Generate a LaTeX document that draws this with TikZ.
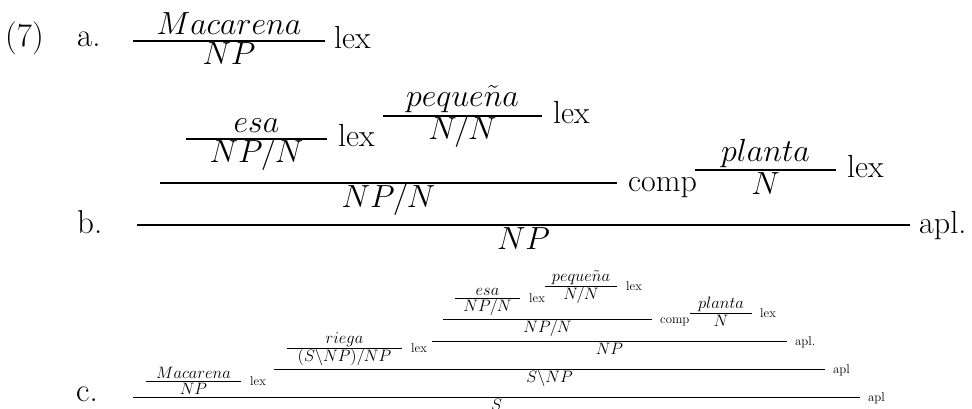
\RequirePackage{fix-cm}
\documentclass[tikz,border=0pt]{standalone}
\usetikzlibrary{calc}

% one horizontal inference rule: #1 name, #2 left x, #3 right x, #4 y, #5 style
\newcommand{\infrule}[5]{%
  \coordinate (#1-l) at (#2,#4);
  \coordinate (#1-r) at (#3,#4);
  \coordinate (#1-c) at ($(#1-l)!0.5!(#1-r)$);
  \draw[#5] (#1-l) -- (#1-r);
}

\tikzset{
  bigrule/.style={line width=1.3pt},
  smallrule/.style={line width=0.75pt},
  bigmath/.style={font=\fontsize{32}{38}\selectfont, inner sep=0pt, anchor=base},
  smallmath/.style={font=\fontsize{16.5}{20}\selectfont, inner sep=0pt, anchor=base},
  biglab/.style={font=\fontsize{32}{38}\selectfont, inner sep=0pt, anchor=base west},
  smalllab/.style={font=\fontsize{12.8}{15}\selectfont, inner sep=0pt, anchor=base west},
  itemlab/.style={font=\fontsize{33}{40}\selectfont, inner sep=0pt, anchor=base west},
}

\begin{document}
\begin{tikzpicture}[x=1pt, y=-1pt]
\useasboundingbox (0,0) rectangle (972,409);
\clip (0,0) rectangle (972,409);

% example number and item labels
\node[itemlab] (exnum) at (5,47) {(7)};
\node[itemlab] (ia) at (77,47) {a.};
\node[itemlab] (ib) at (77,233) {b.};
\node[itemlab] (ic) at (76,401) {c.};

% ---------- (a) ----------
\infrule{amac}{133}{325}{41}{bigrule}
\node[bigmath] (amac-num) at ($(amac-c)+(0,-6)$) {$Macarena$};
\node[bigmath] (amac-den) at ($(amac-c)+(0,24)$) {$NP$};
\node[biglab] (amac-lab) at ($(amac-r)+(9,8)$) {lex};

% ---------- (b) ----------
\infrule{besa}{186}{327}{139}{bigrule}
\node[bigmath] (besa-num) at ($(besa-c)+(0,-6)$) {$esa$};
\node[bigmath] (besa-den) at ($(besa-c)+(0,24)$) {$NP/N$};
\node[biglab] (besa-lab) at ($(besa-r)+(11,8)$) {lex};

\infrule{bpeq}{383}{542}{116}{bigrule}
\node[bigmath] (bpeq-num) at ($(bpeq-c)+(0,-9)$) {$peque\tilde{n}a$};
\node[bigmath] (bpeq-den) at ($(bpeq-c)+(0,24)$) {$N/N$};
\node[biglab] (bpeq-lab) at ($(bpeq-r)+(11,8)$) {lex};

\infrule{bcomp}{160}{617}{183}{bigrule}
\node[bigmath] (bcomp-den) at ($(bcomp-c)+(0,24)$) {$NP/N$};
\node[biglab] (bcomp-lab) at ($(bcomp-r)+(11,8)$) {comp};

\infrule{bpla}{695}{836}{170}{bigrule}
\node[bigmath] (bpla-num) at ($(bpla-c)+(0,-9)$) {$planta$};
\node[bigmath] (bpla-den) at ($(bpla-c)+(0,24)$) {$N$};
\node[biglab] (bpla-lab) at ($(bpla-r)+(11,8)$) {lex};

\infrule{bapl}{137}{910}{225}{bigrule}
\node[bigmath] (bapl-den) at ($(bapl-c)+(0,24)$) {$NP$};
\node[biglab] (bapl-lab) at ($(bapl-r)+(9,8)$) {apl.};

% ---------- (c) ----------
\infrule{cmac}{146}{241}{381}{smallrule}
\node[smallmath] (cmac-num) at ($(cmac-c)+(0,-3)$) {$Macarena$};
\node[smallmath] (cmac-den) at ($(cmac-c)+(0,13)$) {$NP$};
\node[smalllab] (cmac-lab) at ($(cmac-r)+(9,4)$) {lex};

\infrule{crie}{287}{402}{348}{smallrule}
\node[smallmath] (crie-num) at ($(crie-c)+(0,-5)$) {$riega$};
\node[smallmath] (crie-den) at ($(crie-c)+(0,13)$) {$(S\backslash NP)/NP$};
\node[smalllab] (crie-lab) at ($(crie-r)+(9,4)$) {lex};

\infrule{cesa}{455}{520}{298}{smallrule}
\node[smallmath] (cesa-num) at ($(cesa-c)+(0,-3)$) {$esa$};
\node[smallmath] (cesa-den) at ($(cesa-c)+(0,13)$) {$NP/N$};
\node[smalllab] (cesa-lab) at ($(cesa-r)+(9,4)$) {lex};

\infrule{cpeq}{545}{617}{286}{smallrule}
\node[smallmath] (cpeq-num) at ($(cpeq-c)+(0,-5)$) {$peque\tilde{n}a$};
\node[smallmath] (cpeq-den) at ($(cpeq-c)+(0,13)$) {$N/N$};
\node[smalllab] (cpeq-lab) at ($(cpeq-r)+(9,4)$) {lex};

\infrule{ccomp}{443}{652}{319}{smallrule}
\node[smallmath] (ccomp-den) at ($(ccomp-c)+(0,13)$) {$NP/N$};
\node[smalllab] (ccomp-lab) at ($(ccomp-r)+(8,4)$) {comp};

\infrule{cpla}{690}{752}{313}{smallrule}
\node[smallmath] (cpla-num) at ($(cpla-c)+(0,-5)$) {$planta$};
\node[smallmath] (cpla-den) at ($(cpla-c)+(0,13)$) {$N$};
\node[smalllab] (cpla-lab) at ($(cpla-r)+(8,4)$) {lex};

\infrule{cnp}{432}{787}{341}{smallrule}
\node[smallmath] (cnp-den) at ($(cnp-c)+(0,13)$) {$NP$};
\node[smalllab] (cnp-lab) at ($(cnp-r)+(8,4)$) {apl.};

\infrule{csnp}{274}{825}{369}{smallrule}
\node[smallmath] (csnp-den) at ($(csnp-c)+(0,13)$) {$S\backslash NP$};
\node[smalllab] (csnp-lab) at ($(csnp-r)+(8,4)$) {apl};

\infrule{cs}{133}{860}{397}{smallrule}
\node[smallmath] (cs-den) at ($(cs-c)+(0,13)$) {$S$};
\node[smalllab] (cs-lab) at ($(cs-r)+(8,4)$) {apl};
\end{tikzpicture}
\end{document}
